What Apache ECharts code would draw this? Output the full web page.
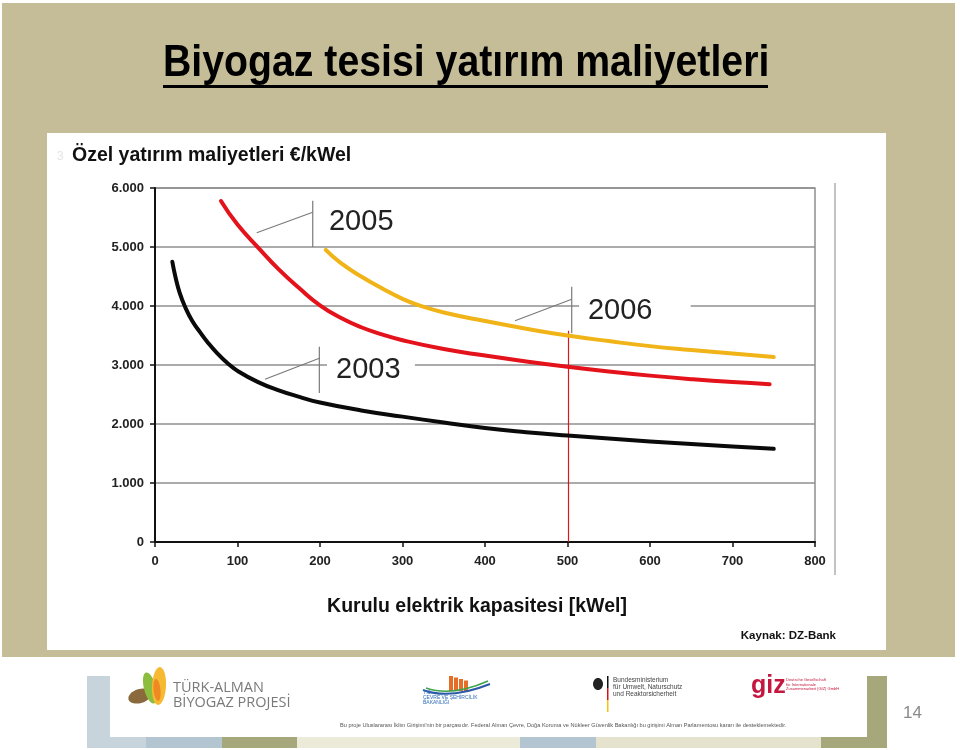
<!DOCTYPE html>
<html><head><meta charset="utf-8">
<script src="https://cdn.jsdelivr.net/npm/echarts@6/dist/echarts.min.js"></script>
<style>html,body{margin:0;padding:0;background:#fff}#c{width:960px;height:750px}</style>
</head><body><div id="c"></div>
<script>
// ---- data ----
const xTickMin = 0, xTickMax = 800, xTickStep = 100;
const yTickMin = 0, yTickMax = 6000, yTickStep = 1000;

const x2003 = [21, 25, 30, 36, 45, 55, 63, 75, 88, 100, 125, 150, 175, 200, 250, 300, 350, 400, 450, 500, 550, 600, 650, 700, 750];
const v2003 = [4750, 4480, 4220, 4000, 3750, 3550, 3400, 3205, 3030, 2900, 2710, 2570, 2460, 2365, 2230, 2125, 2025, 1932, 1862, 1805, 1755, 1705, 1660, 1618, 1580];

const x2005 = [80, 100, 127, 150, 175, 200, 225, 250, 275, 300, 350, 400, 450, 500, 550, 600, 650, 700, 745];
const v2005 = [5780, 5380, 4960, 4620, 4300, 4010, 3800, 3640, 3520, 3420, 3270, 3160, 3060, 2970, 2890, 2820, 2760, 2710, 2675];

const x2006 = [207, 225, 250, 275, 300, 320, 350, 400, 450, 500, 550, 600, 650, 700, 750];
const v2006 = [4950, 4730, 4500, 4300, 4120, 4010, 3890, 3745, 3615, 3500, 3405, 3320, 3255, 3195, 3135];

const markerX = 500, markerTop = 3580;

// annotation callouts, in data coordinates
const annoLabels = ['2005', '2003', '2006'];
const annoVert = [[191.2, 5785, 5000], [199.2, 3310, 2525], [505.1, 4327, 3537]];
const annoDiag = [[191.2, 5588, 123.3, 5242], [199.2, 3114, 133.3, 2758], [505.1, 4114, 436.4, 3751]];
const annoText = [[210.9, 5424], [219.4, 2915], [524.8, 3915]];
const annoMask = [null, [208.5, 315, 3000], [514, 649.3, 4000]];

const FONT = "'Liberation Sans', Arial, Helvetica, sans-serif";
const zip = (xs, vs) => xs.map((x, i) => [x, vs[i]]);

const chart = echarts.init(document.getElementById('c'), null, {renderer: 'canvas'});

const lineSeries = (name, xs, vs, color) => ({
  name: name, type: 'line', data: zip(xs, vs), smooth: 0.5, showSymbol: false, symbol: 'none',
  lineStyle: {color: color, width: 4, cap: 'round', join: 'round'}, itemStyle: {color: color}, z: 3, silent: true
});

chart.setOption({
  animation: false,
  grid: {left: 155, right: 145, top: 188, bottom: 208, show: true, borderColor: '#8f8f8f', borderWidth: 1.5, backgroundColor: 'transparent'},
  xAxis: {
    type: 'value', min: xTickMin, max: xTickMax, interval: xTickStep,
    name: 'Kurulu elektrik kapasitesi [kWel]', nameLocation: 'middle', nameGap: 55,
    nameTextStyle: {fontFamily: FONT, fontWeight: 'bold', fontSize: 19.5, color: '#111', padding: [0, 16, 0, 0]},
    axisLine: {onZero: false, lineStyle: {color: '#111', width: 2}},
    axisTick: {show: true, inside: false, length: 5, lineStyle: {color: '#111', width: 1.5}},
    axisLabel: {margin: 13, fontFamily: FONT, fontWeight: 'bold', fontSize: 13, color: '#222'},
    splitLine: {show: false}
  },
  yAxis: {
    type: 'value', min: yTickMin, max: yTickMax, interval: yTickStep,
    axisLine: {show: true, lineStyle: {color: '#111', width: 2}},
    axisTick: {show: true, inside: false, length: 5, lineStyle: {color: '#111', width: 1.5}},
    axisLabel: {margin: 11, fontFamily: FONT, fontWeight: 'bold', fontSize: 13, color: '#222',
      formatter: v => v === 0 ? '0' : (v / 1000) + '.000'},
    splitLine: {show: true, lineStyle: {color: '#8f8f8f', width: 1.5}}
  },
  series: [
    lineSeries('2003', x2003, v2003, '#0a0a0a'),
    lineSeries('2005', x2005, v2005, '#e3121b'),
    lineSeries('2006', x2006, v2006, '#f1b418')
  ]
});

const px = (x, y) => chart.convertToPixel({xAxisIndex: 0, yAxisIndex: 0}, [x, y]);

const g = [];
// page backgrounds
g.push({type: 'rect', z: -100, silent: true, shape: {x: 2, y: 3, width: 953, height: 654}, style: {fill: '#c4bd97'}});
g.push({type: 'rect', z: -99, silent: true, shape: {x: 47, y: 133, width: 839, height: 517}, style: {fill: '#ffffff'}});

// title
g.push({type: 'text', z: 10, x: 163, y: 64, scaleX: 0.872, style: {text: 'Biyogaz tesisi yatırım maliyetleri', x: 0, y: 0,
  fontFamily: FONT, fontWeight: 'bold', fontSize: 45, fill: '#000', textAlign: 'left', textVerticalAlign: 'middle', align: 'left', verticalAlign: 'middle'}});
g.push({type: 'rect', z: 10, silent: true, shape: {x: 163, y: 85, width: 605, height: 3}, style: {fill: '#000'}});

// subtitle
g.push({type: 'text', z: 10, style: {text: 'Özel yatırım maliyetleri €/kWel', x: 72, y: 155.5,
  fontFamily: FONT, fontWeight: 'bold', fontSize: 19.5, fill: '#111', textAlign: 'left', textVerticalAlign: 'middle', align: 'left', verticalAlign: 'middle'}});
g.push({type: 'text', z: 10, style: {text: '3', x: 57, y: 157, fontFamily: FONT, fontSize: 12, fill: '#e4e4e4', textVerticalAlign: 'middle', verticalAlign: 'middle'}});

// source
g.push({type: 'text', z: 10, style: {text: 'Kaynak: DZ-Bank', x: 836, y: 636,
  fontFamily: FONT, fontWeight: 'bold', fontSize: 11.5, fill: '#111', textAlign: 'right', align: 'right', textVerticalAlign: 'middle', verticalAlign: 'middle'}});

// extra vertical frame line to the right of the plot
const pTop = px(xTickMax, yTickMax), pBot = px(xTickMax, yTickMin);
g.push({type: 'line', z: 5, silent: true, shape: {x1: pTop[0] + 20, y1: pTop[1] - 5, x2: pTop[0] + 20, y2: pBot[1] + 33}, style: {stroke: '#9a9a9a', lineWidth: 1.2}});

// red 500 kWel marker line
const m1 = px(markerX, 0), m2 = px(markerX, markerTop);
g.push({type: 'line', z: 2, silent: true, shape: {x1: Math.round(m1[0]) + 0.5, y1: m1[1], x2: Math.round(m2[0]) + 0.5, y2: m2[1]}, style: {stroke: '#e0141c', lineWidth: 1.2}});

// annotations
annoLabels.forEach((lab, i) => {
  if (annoMask[i]) {
    const a = px(annoMask[i][0], annoMask[i][2]), b = px(annoMask[i][1], annoMask[i][2]);
    g.push({type: 'rect', z: 1, silent: true, shape: {x: a[0], y: a[1] - 3, width: b[0] - a[0], height: 6}, style: {fill: '#fff'}});
  }
  const v1 = px(annoVert[i][0], annoVert[i][1]), v2 = px(annoVert[i][0], annoVert[i][2]);
  g.push({type: 'line', z: 5, silent: true, shape: {x1: v1[0], y1: v1[1], x2: v2[0], y2: v2[1]}, style: {stroke: '#7a7a7a', lineWidth: 1.2}});
  const d1 = px(annoDiag[i][0], annoDiag[i][1]), d2 = px(annoDiag[i][2], annoDiag[i][3]);
  g.push({type: 'line', z: 5, silent: true, shape: {x1: d1[0], y1: d1[1], x2: d2[0], y2: d2[1]}, style: {stroke: '#7a7a7a', lineWidth: 1.2}});
  const t = px(annoText[i][0], annoText[i][1]);
  g.push({type: 'text', z: 6, style: {text: lab, x: t[0], y: t[1], fontFamily: FONT, fontSize: 29, fill: '#222',
    textAlign: 'left', align: 'left', textVerticalAlign: 'middle', verticalAlign: 'middle'}});
});

// footer decorations
const olive = '#a6a87b', blue1 = '#c8d4db', blue2 = '#b3c5d0', beige1 = '#ecead9', beige2 = '#e5e2cd';
g.push({type: 'rect', z: -50, silent: true, shape: {x: 87, y: 676, width: 23, height: 72}, style: {fill: blue1}});
[[87, 146, blue1], [146, 222, blue2], [222, 297, olive], [297, 520, beige1], [520, 596, blue2], [596, 821, beige2], [821, 887, olive]]
  .forEach(s => g.push({type: 'rect', z: -50, silent: true, shape: {x: s[0], y: 737, width: s[1] - s[0], height: 11}, style: {fill: s[2]}}));
g.push({type: 'rect', z: -50, silent: true, shape: {x: 867, y: 676, width: 20, height: 72}, style: {fill: olive}});
g.push({type: 'rect', z: -49, silent: true, shape: {x: 110, y: 676, width: 757, height: 61}, style: {fill: '#ffffff'}});

// Türk-Alman logo
g.push({type: 'ellipse', z: 2, silent: true, x: 140, y: 696, rotation: 0.3, shape: {cx: 0, cy: 0, rx: 12, ry: 7}, style: {fill: '#8a6a3c'}});
g.push({type: 'ellipse', z: 3, silent: true, x: 150, y: 688, rotation: 0.25, shape: {cx: 0, cy: 0, rx: 6, ry: 16}, style: {fill: '#8dbd3e'}});
g.push({type: 'ellipse', z: 4, silent: true, x: 159, y: 686, rotation: -0.05, shape: {cx: 0, cy: 0, rx: 7, ry: 19}, style: {fill: '#f6b932'}});
g.push({type: 'ellipse', z: 5, silent: true, x: 157, y: 690, rotation: 0.1, shape: {cx: 0, cy: 0, rx: 3.5, ry: 11}, style: {fill: '#ef8a22'}});
g.push({type: 'text', z: 5, style: {text: 'TÜRK-ALMAN', x: 173, y: 688, fontFamily: "'Open Sans', " + FONT, fontSize: 14.5, fill: '#7a7a7a', textVerticalAlign: 'middle', verticalAlign: 'middle'}});
g.push({type: 'text', z: 5, style: {text: 'BİYOGAZ PROJESİ', x: 173, y: 703, fontFamily: "'Open Sans', " + FONT, fontSize: 14.5, fill: '#7a7a7a', textVerticalAlign: 'middle', verticalAlign: 'middle'}});

// ministry logo
[0, 5, 10, 15].forEach((o, i) => g.push({type: 'rect', z: 5, silent: true, shape: {x: 449 + o, y: 676 + i * 1.5, width: 4, height: 15 - i * 1.5}, style: {fill: '#e66d26'}}));
g.push({type: 'bezierCurve', z: 5, silent: true, shape: {x1: 423, y1: 690, x2: 490, y2: 684, cpx1: 450, cpy1: 700}, style: {stroke: '#2a5aa8', lineWidth: 2, fill: 'none'}});
g.push({type: 'bezierCurve', z: 5, silent: true, shape: {x1: 426, y1: 688, x2: 488, y2: 681, cpx1: 452, cpy1: 697}, style: {stroke: '#3ea34c', lineWidth: 1.5, fill: 'none'}});
['T.C.', 'ÇEVRE VE ŞEHİRCİLİK', 'BAKANLIĞI'].forEach((s, i) => g.push({type: 'text', z: 5, style: {text: s, x: 423, y: 693 + i * 5, fontFamily: FONT, fontSize: 5, fill: '#2d6db5', textVerticalAlign: 'middle', verticalAlign: 'middle'}}));

// BMU logo
g.push({type: 'ellipse', z: 5, silent: true, shape: {cx: 598, cy: 684, rx: 5, ry: 6}, style: {fill: '#222'}});
g.push({type: 'rect', z: 5, silent: true, shape: {x: 607, y: 676, width: 1.5, height: 12}, style: {fill: '#111'}});
g.push({type: 'rect', z: 5, silent: true, shape: {x: 607, y: 688, width: 1.5, height: 12}, style: {fill: '#d8101a'}});
g.push({type: 'rect', z: 5, silent: true, shape: {x: 607, y: 700, width: 1.5, height: 12}, style: {fill: '#f1c40f'}});
['Bundesministerium', 'für Umwelt, Naturschutz', 'und Reaktorsicherheit'].forEach((s, i) => g.push({type: 'text', z: 5, style: {text: s, x: 613, y: 680 + i * 7, fontFamily: FONT, fontSize: 6.5, fill: '#444', textVerticalAlign: 'middle', verticalAlign: 'middle'}}));

// giz logo
g.push({type: 'text', z: 5, style: {text: 'giz', x: 751, y: 686, fontFamily: FONT, fontWeight: 'bold', fontSize: 25, fill: '#c4173f', textVerticalAlign: 'middle', verticalAlign: 'middle'}});
['Deutsche Gesellschaft', 'für Internationale', 'Zusammenarbeit (GIZ) GmbH'].forEach((s, i) => g.push({type: 'text', z: 5, style: {text: s, x: 786, y: 680 + i * 4.5, fontFamily: FONT, fontSize: 4, fill: '#c4173f', textVerticalAlign: 'middle', verticalAlign: 'middle'}}));

g.push({type: 'text', z: 5, style: {text: "Bu proje Uluslararası İklim Girişimi'nin bir parçasıdır. Federal Alman Çevre, Doğa Koruma ve Nükleer Güvenlik Bakanlığı bu girişimi Alman Parlamentosu kararı ile desteklemektedir.",
  x: 340, y: 725, fontFamily: FONT, fontSize: 5.6, fill: '#555', textVerticalAlign: 'middle', verticalAlign: 'middle'}});
g.push({type: 'text', z: 5, style: {text: '14', x: 903, y: 713, fontFamily: FONT, fontSize: 17, fill: '#8a8a8a', textVerticalAlign: 'middle', verticalAlign: 'middle'}});

chart.setOption({graphic: {elements: g}});
</script>
</body></html>
